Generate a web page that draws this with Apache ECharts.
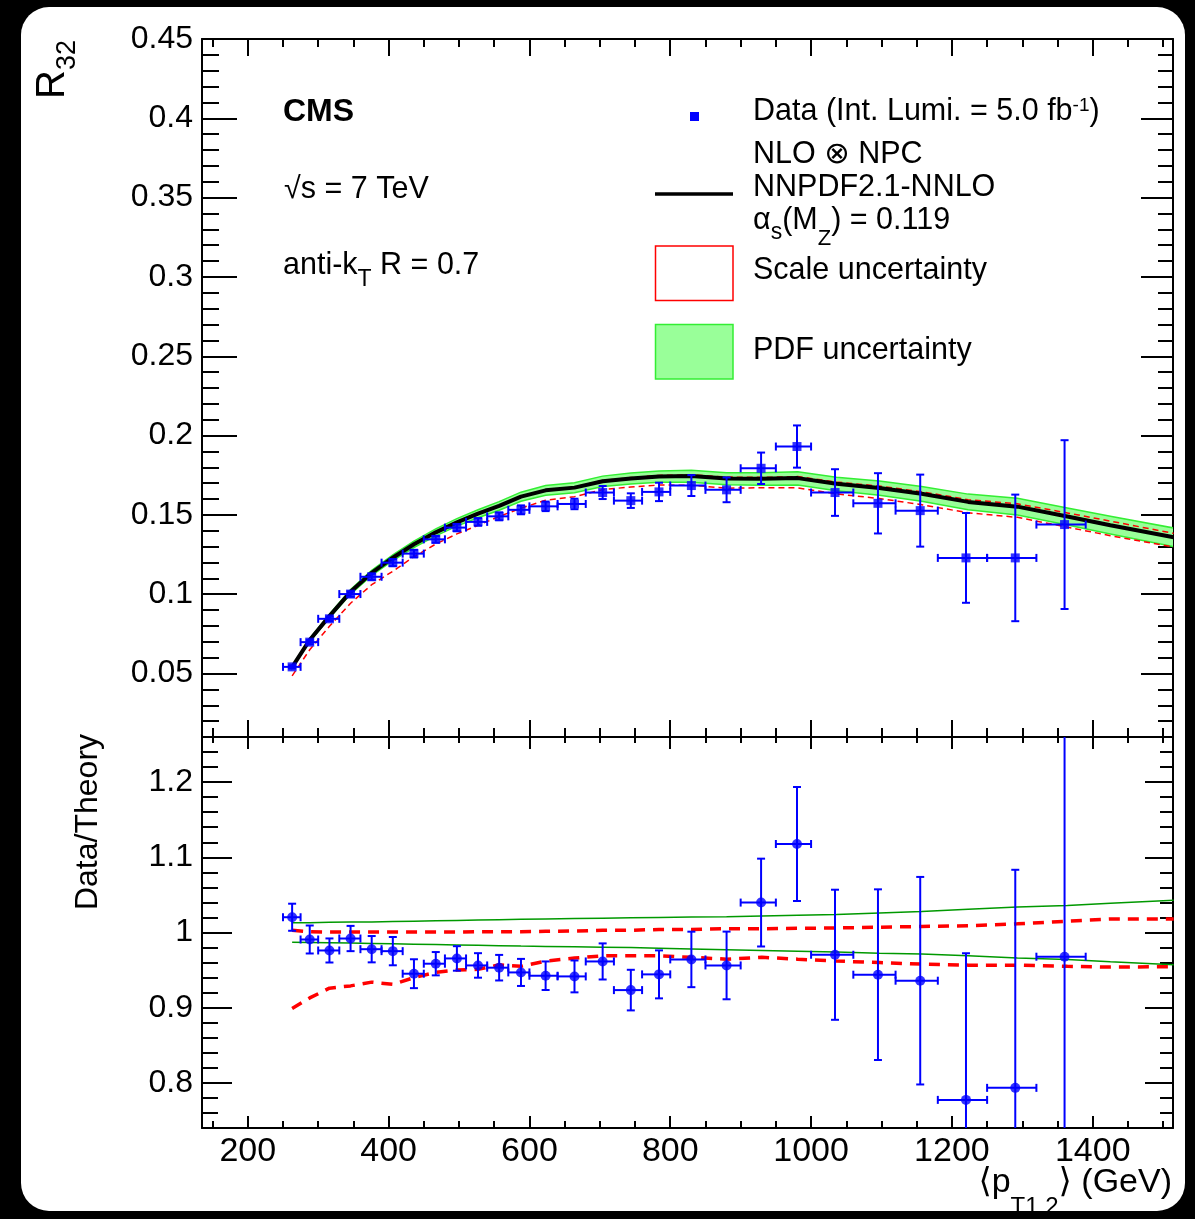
<!DOCTYPE html>
<html>
<head>
<meta charset="utf-8">
<script src="https://cdn.jsdelivr.net/npm/echarts@6/dist/echarts.min.js"></script>
<style>
html, body { margin: 0; padding: 0; background: #000; }
#paper { position: absolute; left: 21px; top: 7px; width: 1164px; height: 1204px; background: #fff; border-radius: 28px; }
#chart { position: absolute; left: 0; top: 0; width: 1195px; height: 1219px; }
</style>
</head>
<body>
<div id="paper"></div>
<div id="chart"></div>
<script>
// measured points: mean pT of each bin and bin edges (GeV)
var ptMean = [263, 288, 316, 346, 376, 406, 436, 467, 497, 527, 557, 588, 623, 664, 704, 744, 784, 830, 880, 929, 980, 1034, 1095, 1155, 1220, 1290, 1360];
var binEdges = [250, 275, 300, 330, 360, 390, 420, 450, 480, 510, 540, 570, 600, 640, 680, 720, 760, 800, 850, 900, 950, 1000, 1060, 1120, 1180, 1250, 1320, 1390];

// R32 data and stat errors
var r32 = [0.0542, 0.0698, 0.0845, 0.1001, 0.1110, 0.1199, 0.1256, 0.1346, 0.1420, 0.1456, 0.1491, 0.1532, 0.1554, 0.1569, 0.1641, 0.1590, 0.1645, 0.1685, 0.1658, 0.1794, 0.1931, 0.1641, 0.1573, 0.1527, 0.1229, 0.1229, 0.1439];
var r32Err = [0.0010, 0.0013, 0.0014, 0.0017, 0.0019, 0.0022, 0.0024, 0.0021, 0.0023, 0.0024, 0.0025, 0.0028, 0.0030, 0.0033, 0.0041, 0.0046, 0.0058, 0.0066, 0.0078, 0.0099, 0.0133, 0.0147, 0.0190, 0.0227, 0.0283, 0.0399, 0.0532];

// data / theory
var ratio = [1.0203, 0.9907, 0.9761, 0.9920, 0.9778, 0.9752, 0.9452, 0.9585, 0.9655, 0.9562, 0.9532, 0.9469, 0.9425, 0.9416, 0.9615, 0.9234, 0.9443, 0.9642, 0.9562, 1.0398, 1.1177, 0.9704, 0.9439, 0.9359, 0.7774, 0.7934, 0.9678];
var ratioErr = [0.018, 0.0186, 0.016, 0.0168, 0.0175, 0.0188, 0.0192, 0.0155, 0.0163, 0.0163, 0.017, 0.018, 0.019, 0.0212, 0.024, 0.027, 0.0319, 0.0369, 0.045, 0.0584, 0.0758, 0.0865, 0.1135, 0.138, 0.195, 0.29, 0.37];

// NLO x NPC prediction and its uncertainties (as ratios to central)
var theoryPt = [263, 288, 316, 346, 376, 406, 436, 467, 497, 527, 557, 588, 623, 664, 704, 744, 784, 830, 880, 930, 981, 1036, 1097, 1157, 1223, 1293, 1364, 1425, 1515];
var nloCentral = [0.0540, 0.0712, 0.0862, 0.1015, 0.1135, 0.1230, 0.1315, 0.1390, 0.1453, 0.1508, 0.1557, 0.1615, 0.1655, 0.1672, 0.1712, 0.1730, 0.1742, 0.1745, 0.1730, 0.1728, 0.1732, 0.1697, 0.1670, 0.1633, 0.1582, 0.1552, 0.1490, 0.1435, 0.1359];
var pdfUpRatio = [1.013, 1.013, 1.0135, 1.014, 1.014, 1.0145, 1.015, 1.0155, 1.016, 1.0165, 1.017, 1.0175, 1.018, 1.0185, 1.019, 1.0195, 1.020, 1.0205, 1.021, 1.022, 1.023, 1.024, 1.026, 1.028, 1.031, 1.034, 1.036, 1.039, 1.043];
var pdfDownRatio = [0.987, 0.9868, 0.9865, 0.986, 0.9855, 0.985, 0.9845, 0.984, 0.9835, 0.983, 0.9825, 0.982, 0.9815, 0.981, 0.9805, 0.980, 0.979, 0.978, 0.977, 0.976, 0.975, 0.974, 0.9725, 0.9715, 0.969, 0.966, 0.964, 0.961, 0.957];
var scaleUpRatio = [1.003, 1.001, 1.0005, 1.0005, 1.0005, 1.0005, 1.0005, 1.0005, 1.0005, 1.001, 1.001, 1.001, 1.0015, 1.002, 1.003, 1.003, 1.004, 1.004, 1.005, 1.005, 1.0055, 1.006, 1.007, 1.008, 1.009, 1.0115, 1.015, 1.018, 1.018];
var scaleDownRatio = [0.899, 0.913, 0.926, 0.929, 0.934, 0.931, 0.940, 0.947, 0.950, 0.951, 0.957, 0.955, 0.962, 0.966, 0.969, 0.969, 0.969, 0.967, 0.9645, 0.967, 0.9645, 0.962, 0.960, 0.958, 0.9566, 0.9566, 0.955, 0.954, 0.9545];

// tick labels
var xTicks = [200, 400, 600, 800, 1000, 1200, 1400];
var r32Ticks = [0.05, 0.1, 0.15, 0.2, 0.25, 0.3, 0.35, 0.4, 0.45];
var ratioTicks = [0.8, 0.9, 1, 1.1, 1.2];

var FONT = '"Liberation Sans", Arial, Helvetica, "DejaVu Sans", sans-serif';
var BLUE = '#0000ff';
var TS = 30.5; // text size in the pad

var xMinor = [];
for (var v = 150; v <= 1500; v += 50) { if (v % 200 !== 0) xMinor.push(v); }
var r32Minor = [];
for (var i = 2; i <= 44; i++) { if (i % 5 !== 0) r32Minor.push(i / 100); }
var ratioMinor = [];
for (var k = 76; k <= 124; k += 2) { if (k % 10 !== 0) ratioMinor.push(k / 100); }

function pairs(xs, ys, scale) {
    return xs.map(function (x, i) { return [x, scale ? ys[i] * scale[i] : ys[i]]; });
}

function tickAxis(grid, pos, lo, hi, values, len, line, label) {
    return {
        type: 'value', gridIndex: grid, position: pos, min: lo, max: hi,
        axisLine: { show: line, onZero: false, lineStyle: { color: '#000', width: 2 } },
        axisTick: { show: true, inside: true, length: len, customValues: values, lineStyle: { color: '#000', width: 2 } },
        axisLabel: label ? {
            show: true, customValues: values, color: '#000', fontFamily: FONT,
            fontSize: label.size, margin: label.margin,
            formatter: function (v) { return String(v); }
        } : { show: false },
        splitLine: { show: false }
    };
}

function errorRender(params, api) {
    var x = api.value(0), y = api.value(1), lo = api.value(2), hi = api.value(3), e = api.value(4);
    var pl = api.coord([lo, y]), ph = api.coord([hi, y]);
    var pt = api.coord([x, y + e]), pb = api.coord([x, y - e]);
    var c = 4;
    function seg(x1, y1, x2, y2) {
        return { type: 'line', shape: { x1: x1, y1: y1, x2: x2, y2: y2 }, style: { stroke: BLUE, lineWidth: 2 } };
    }
    return {
        type: 'group', children: [
            seg(pl[0], pl[1], ph[0], ph[1]),
            seg(pt[0], pt[1], pb[0], pb[1]),
            seg(pl[0], pl[1] - c, pl[0], pl[1] + c),
            seg(ph[0], ph[1] - c, ph[0], ph[1] + c),
            seg(pt[0] - c, pt[1], pt[0] + c, pt[1]),
            seg(pb[0] - c, pb[1], pb[0] + c, pb[1])
        ]
    };
}

function errData(ys, es) {
    return ptMean.map(function (x, i) { return [x, ys[i], binEdges[i], binEdges[i + 1], es[i]]; });
}

function rs(size, padTop, padBottom, weight) {
    return { fontSize: size, fontFamily: FONT, fontWeight: weight || 'normal', fill: '#000', padding: [padTop || 0, 0, padBottom || 0, 0] };
}

function txt(x, y, text, rich, extra) {
    var el = {
        type: 'text', x: x, y: y, silent: true,
        style: { text: text, rich: rich, lineHeight: 40, align: 'left', verticalAlign: 'middle', fill: '#000' }
    };
    if (extra) {
        for (var key in extra) {
            if (key === 'rotation') el.rotation = extra[key]; else el.style[key] = extra[key];
        }
    }
    return el;
}

var myChart = echarts.init(document.getElementById('chart'));

var option = {
    animation: false,
    backgroundColor: 'transparent',
    grid: [
        { left: 202, top: 39, width: 971, height: 698, outerBoundsMode: 'none' },
        { left: 202, top: 737, width: 971, height: 391, outerBoundsMode: 'none' }
    ],
    xAxis: [
        tickAxis(0, 'bottom', 135, 1514, xTicks, 17, true),
        tickAxis(0, 'bottom', 135, 1514, xMinor, 9, false),
        tickAxis(0, 'top', 135, 1514, xTicks, 17, true),
        tickAxis(0, 'top', 135, 1514, xMinor, 8, false),
        tickAxis(1, 'bottom', 135, 1514, xTicks, 12, true, { size: 34, margin: 7 }),
        tickAxis(1, 'bottom', 135, 1514, xMinor, 7, false),
        tickAxis(1, 'top', 135, 1514, xTicks, 12, true),
        tickAxis(1, 'top', 135, 1514, xMinor, 6, false)
    ],
    yAxis: [
        tickAxis(0, 'left', 0.01, 0.45, r32Ticks, 35, true, { size: 32, margin: 9 }),
        tickAxis(0, 'left', 0.01, 0.45, r32Minor, 17, false),
        tickAxis(0, 'right', 0.01, 0.45, r32Ticks, 32, true),
        tickAxis(0, 'right', 0.01, 0.45, r32Minor, 15, false),
        tickAxis(1, 'left', 0.74, 1.26, ratioTicks, 30, true, { size: 32, margin: 9 }),
        tickAxis(1, 'left', 0.74, 1.26, ratioMinor, 16, false),
        tickAxis(1, 'right', 0.74, 1.26, ratioTicks, 28, true),
        tickAxis(1, 'right', 0.74, 1.26, ratioMinor, 13, false)
    ],
    series: [
        {
            // PDF uncertainty band
            type: 'custom', xAxisIndex: 0, yAxisIndex: 0, clip: true, z: 1,
            data: [[theoryPt[0], nloCentral[0]]],
            renderItem: function (params, api) {
                var pts = [];
                for (var i = 0; i < theoryPt.length; i++) {
                    pts.push(api.coord([theoryPt[i], nloCentral[i] * pdfUpRatio[i]]));
                }
                for (var j = theoryPt.length - 1; j >= 0; j--) {
                    pts.push(api.coord([theoryPt[j], nloCentral[j] * pdfDownRatio[j]]));
                }
                return { type: 'polygon', shape: { points: pts }, style: { fill: '#99ff99', stroke: '#33ee33', lineWidth: 1.5 } };
            }
        },
        {
            type: 'line', xAxisIndex: 0, yAxisIndex: 0, z: 2, symbol: 'none',
            data: pairs(theoryPt, nloCentral, scaleUpRatio),
            lineStyle: { color: '#ff0000', width: 1.5, type: [6, 4] }
        },
        {
            type: 'line', xAxisIndex: 0, yAxisIndex: 0, z: 2, symbol: 'none',
            data: pairs(theoryPt, nloCentral, scaleDownRatio),
            lineStyle: { color: '#ff0000', width: 1.5, type: [6, 4] }
        },
        {
            type: 'line', xAxisIndex: 0, yAxisIndex: 0, z: 3, symbol: 'none',
            data: pairs(theoryPt, nloCentral),
            lineStyle: { color: '#000', width: 4 }
        },
        {
            type: 'custom', xAxisIndex: 0, yAxisIndex: 0, clip: true, z: 4,
            data: errData(r32, r32Err), renderItem: errorRender
        },
        {
            type: 'scatter', xAxisIndex: 0, yAxisIndex: 0, z: 5,
            symbol: 'rect', symbolSize: 9, itemStyle: { color: BLUE },
            data: pairs(ptMean, r32)
        },
        // ratio panel
        {
            type: 'line', xAxisIndex: 4, yAxisIndex: 4, z: 2, symbol: 'none',
            data: pairs(theoryPt, pdfUpRatio), lineStyle: { color: '#009900', width: 1.5 }
        },
        {
            type: 'line', xAxisIndex: 4, yAxisIndex: 4, z: 2, symbol: 'none',
            data: pairs(theoryPt, pdfDownRatio), lineStyle: { color: '#009900', width: 1.5 }
        },
        {
            type: 'line', xAxisIndex: 4, yAxisIndex: 4, z: 3, symbol: 'none',
            data: pairs(theoryPt, scaleUpRatio), lineStyle: { color: '#ff0000', width: 3.5, type: [11, 8] }
        },
        {
            type: 'line', xAxisIndex: 4, yAxisIndex: 4, z: 3, symbol: 'none',
            data: pairs(theoryPt, scaleDownRatio), lineStyle: { color: '#ff0000', width: 3.5, type: [11, 8] }
        },
        {
            type: 'custom', xAxisIndex: 4, yAxisIndex: 4, clip: true, z: 4,
            data: errData(ratio, ratioErr), renderItem: errorRender
        },
        {
            type: 'scatter', xAxisIndex: 4, yAxisIndex: 4, z: 5,
            symbol: 'circle', symbolSize: 10, itemStyle: { color: BLUE },
            data: pairs(ptMean, ratio)
        }
    ],
    graphic: [
        txt(283, 112, '{b|CMS}', { b: rs(32, 0, 0, 'bold') }),
        txt(284, 190, '{a|√s = 7 TeV}', { a: rs(TS) }),
        txt(283, 266, '{a|anti-k}{s|T}{a| R = 0.7}', { a: rs(TS), s: rs(23, 27, 0) }),
        { type: 'rect', silent: true, shape: { x: 690, y: 112, width: 9, height: 9 }, style: { fill: BLUE } },
        txt(753, 112, '{a|Data (Int. Lumi. = 5.0 fb}{p|-1}{a|)}', { a: rs(TS), p: rs(19, 0, 13) }),
        txt(753, 155, '{a|NLO ⊗ NPC}', { a: rs(TS) }),
        { type: 'line', silent: true, shape: { x1: 655, y1: 194, x2: 733, y2: 194 }, style: { stroke: '#000', lineWidth: 3.5 } },
        txt(753, 188, '{a|NNPDF2.1-NNLO}', { a: rs(TS) }),
        txt(753, 221, '{a|α}{s|s}{a|(M}{z|Z}{a|) = 0.119}', { a: rs(TS), s: rs(23, 23, 0), z: rs(22, 36, 0) }),
        { type: 'rect', silent: true, shape: { x: 655.5, y: 246, width: 77.5, height: 54.5 }, style: { fill: '#fff', stroke: '#ff0000', lineWidth: 1.5 } },
        txt(753, 271, '{a|Scale uncertainty}', { a: rs(TS) }),
        { type: 'rect', silent: true, shape: { x: 655.5, y: 324.5, width: 77.5, height: 54.5 }, style: { fill: '#99ff99', stroke: '#33ee33', lineWidth: 1.5 } },
        txt(753, 351, '{a|PDF uncertainty}', { a: rs(TS) }),
        txt(53, 40, '{a|R}{s|32}', { a: rs(40), s: rs(27, 29, 0) }, { align: 'right', rotation: Math.PI / 2 }),
        txt(88, 822, '{a|Data/Theory}', { a: rs(32) }, { align: 'center', rotation: Math.PI / 2 }),
        txt(1172, 1183, '{a|⟨p}{s|T1,2}{a|⟩ (GeV)}', { a: rs(34), s: rs(24, 48, 0) }, { align: 'right' })
    ]
};

myChart.setOption(option);
</script>
</body>
</html>
